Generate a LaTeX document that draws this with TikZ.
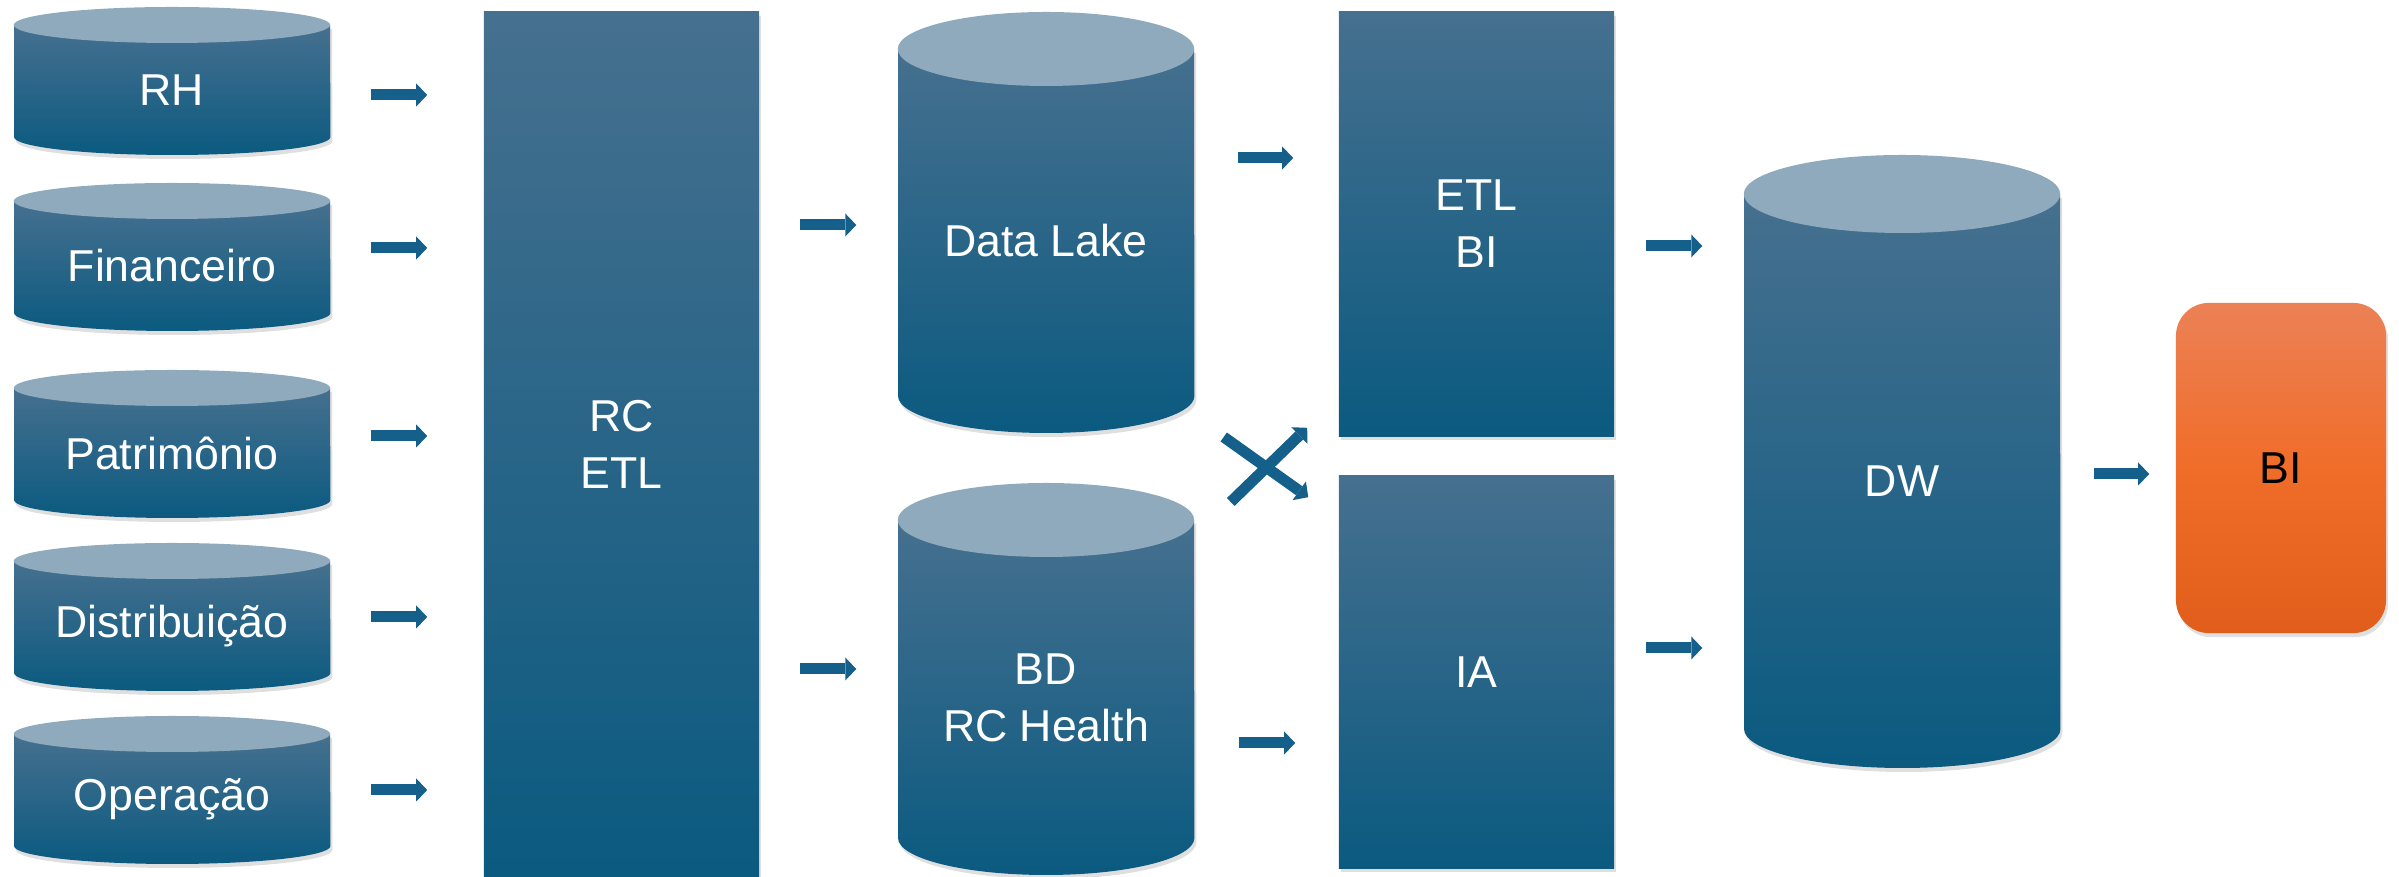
\documentclass[tikz,border=0pt]{standalone}
\usepackage{fontspec}
\setmainfont{Liberation Sans}
\usepackage{tikz}
\usetikzlibrary{arrows.meta, calc, shadows}
\usepackage{xcolor}
\definecolor{deepblue}{HTML}{0B5A80}
\definecolor{steelblue}{HTML}{46708F}
\definecolor{lidblue}{HTML}{8EAABC}
\definecolor{arrowblue}{HTML}{15608A}
\definecolor{orangetop}{HTML}{EC8156}
\definecolor{orangemid}{HTML}{F06D29}
\definecolor{orangebot}{HTML}{E05D1B}
\tikzset{
  soft/.style={drop shadow={opacity=0.25, shadow xshift=0.02cm,
               shadow yshift=-0.04cm}},
  body/.style={top color=steelblue, bottom color=deepblue},
  lid/.style={fill=lidblue},
  dbtext/.style={inner sep=0pt, align=center, text=white,
                 font=\fontsize{12.7}{16.2}\selectfont},
  stage/.style={rectangle, body, soft, inner sep=0pt, align=center,
                text=white, font=\fontsize{12.7}{16.2}\selectfont},
  report/.style={rectangle, rounded corners=0.33cm, top color=orangetop,
                 bottom color=orangebot, middle color=orangemid, soft,
                 inner sep=0pt, align=center, text=black,
                 font=\fontsize{12.7}{16.2}\selectfont},
  flow/.style={arrowblue, line width=0.11cm,
               -{Triangle[length=0.11cm, width=0.23cm, line width=0pt]}},
}
% name, left, top, width, height, lid radius, text
\newcommand{\dbcyl}[7]{%
  \shade[body, soft] (#2,#3+#6) -- (#2,#3+#5-#6)
    arc[start angle=180, end angle=360, x radius=#4*0.005cm, y radius=#6*0.01cm]
    -- (#2+#4,#3+#6) -- cycle;
  \fill[lid] (#2+#4/2,#3+#6) ellipse[x radius=#4*0.005cm, y radius=#6*0.01cm];
  \node[dbtext, minimum width=#4*0.01cm] (#1) at (#2+#4/2,#3+#5/2+#6/2) {#7};
}

\begin{document}
\begin{tikzpicture}[x=0.01cm, y=-0.01cm]

  \useasboundingbox (0,0) rectangle (2399,877);

  %% --- SOURCES ---
  \foreach \nm/\tp/\txt in {rh/7/RH, fin/183/Financeiro, pat/370/Patrimônio,
                            dist/543/Distribuição, oper/716/Operação}{
    \dbcyl{\nm}{14}{\tp}{316}{148}{18}{\txt}
  }

  %% RC ETL
  \node[stage, minimum width=2.75cm, minimum height=8.65cm]
    (etl) at (621.5,444.5) {RC\\ETL};

  \foreach \nm/\dy in {rh/5, fin/-18, pat/-17, dist/-9, oper/-9}{
    \draw[flow] ($(\nm.east)+(40,\dy)$) -- ($(\nm.east -| etl.west)+(-56,\dy)$);
  }

  %% --- STORAGE ---
  \dbcyl{lake}{898}{12}{296}{421}{37}{Data Lake}
  \dbcyl{health}{898}{483}{296}{392}{37}{BD\\RC Health}

  \draw[flow] ($(etl.east)+(40,-219.5)$) -- ($(etl.east -| lake.west)+(-41,-219.5)$);
  \draw[flow] ($(etl.east)+(40,224.5)$) -- ($(etl.east -| health.west)+(-41,224.5)$);

  %% --- PROCESSING ---
  \node[stage, minimum width=2.75cm, minimum height=4.24cm]
    (etlbi) at (1476.5,224) {ETL\\BI};
  \node[stage, minimum width=2.75cm, minimum height=3.92cm]
    (ia) at (1476.5,672) {IA};

  \draw[flow] ($(lake.east)+(43,-83)$) -- ($(lake.east -| etlbi.west)+(-45,-83)$);
  \draw[flow] ($(health.east)+(44,45.5)$) -- ($(health.east -| ia.west)+(-43,45.5)$);

  %% crossing
  \draw[flow] ($(lake.east)+(29,196)$) -- ($(ia.north west)+(-30,22)$);
  \draw[flow] ($(health.east)+(36,-195.5)$) -- ($(etlbi.south west)+(-31,-9)$);

  %% --- WAREHOUSE + BI ---
  \dbcyl{dw}{1744}{155}{316}{613}{39}{DW}
  \node[report, minimum width=2.10cm, minimum height=3.30cm]
    (bi) at (2281,468) {BI};

  \draw[flow] ($(etlbi.east)+(31,22)$) -- ($(etlbi.east -| dw.west)+(-41,22)$);
  \draw[flow] ($(ia.east)+(31,-24)$) -- ($(ia.east -| dw.west)+(-41,-24)$);
  \draw[flow] ($(dw.east)+(33,-7)$) -- ($(dw.east -| bi.west)+(-26,-7)$);

\end{tikzpicture}
\end{document}
